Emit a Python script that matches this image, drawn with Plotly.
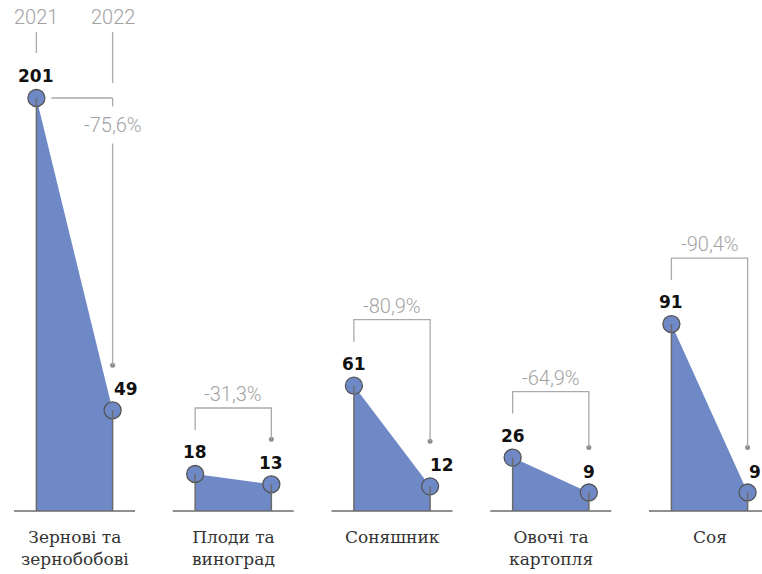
import plotly.graph_objects as go

# ---------------- data ----------------
categories = ["Зернові та<br>зернобобові", "Плоди та<br>виноград", "Соняшник",
              "Овочі та<br>картопля", "Соя"]
values_2021 = [201, 18, 61, 26, 91]
values_2022 = [49, 13, 12, 9, 9]
changes = ["-75,6%", "-31,3%", "-80,9%", "-64,9%", "-90,4%"]
years = ["2021", "2022"]

# ---------------- layout constants ----------------
W, H = 762, 574
GROUP_PX = 158.75          # px between group centres
FIRST_CENTER_PX = 74.5     # px of first group centre
HALF = 0.24                # year offset from group centre (group units)
Y_RANGE = [-30.66, 248.7]
PX_PER_UNIT = H / (Y_RANGE[1] - Y_RANGE[0])

FILL = "#6f88c6"
EDGE = "#6b6b6b"
BRACKET = "#aaaaaa"
GREY_TXT = "#a3a3a3"
LIGHT_FONT = dict(family="Roboto", size=20, color=GREY_TXT, weight=300)
VALUE_FONT = dict(family="DejaVu Sans", size=17, color="#111111", weight="bold")
CAT_FONT = dict(family="DejaVu Serif", size=17, color="#333333")

# label x-shift (px) for 2022 value labels (placement only)
label22_dx = [13, 0, 12, 0, 7]


def dx(px):
    return px / GROUP_PX


def dy(px):
    return px / PX_PER_UNIT


def px_to_y(p):
    return Y_RANGE[1] - p / PX_PER_UNIT


fig = go.Figure()
shapes = []
annotations = []
dot_x, dot_y = [], []
pt_x, pt_y = [], []

for i, (cat, v1, v2, ch) in enumerate(zip(categories, values_2021, values_2022, changes)):
    x1, x2 = i - HALF, i + HALF
    # filled area
    fig.add_trace(go.Scatter(x=[x1, x1, x2, x2], y=[0, v1, v2, 0], mode="lines",
                             fill="toself", fillcolor=FILL, line=dict(width=0),
                             hoverinfo="skip", showlegend=False))
    # vertical edges
    shapes.append(dict(type="line", xref="x", yref="y", x0=x1, x1=x1, y0=0, y1=v1,
                       line=dict(color=EDGE, width=1.5), layer="above"))
    shapes.append(dict(type="line", xref="x", yref="y", x0=x2, x1=x2, y0=0, y1=v2,
                       line=dict(color=EDGE, width=1.5), layer="above"))
    # baseline
    shapes.append(dict(type="line", xref="x", yref="y", x0=i - dx(60.5), x1=i + dx(60.5),
                       y0=0, y1=0, line=dict(color=EDGE, width=1.5)))
    pt_x += [x1, x2]
    pt_y += [v1, v2]

    # value labels
    annotations.append(dict(x=x1, y=v1, xref="x", yref="y", text=f"<b>{v1}</b>",
                            showarrow=False, yshift=22, font=VALUE_FONT))
    annotations.append(dict(x=x2, y=v2, xref="x", yref="y", text=f"<b>{v2}</b>",
                            showarrow=False, yshift=21, xshift=label22_dx[i], font=VALUE_FONT))

    # category label
    annotations.append(dict(x=i, y=0, xref="x", yref="y", text=cat, showarrow=False,
                            yanchor="top", yshift=-14, font=CAT_FONT))

    # bracket
    dot_level = v2 + dy(45)
    top = v1 + dy(66)
    if top > px_to_y(60):
        # inline bracket at the 2021 point level
        by = v1
        shapes.append(dict(type="line", xref="x", yref="y", x0=x1 + dx(15), x1=x2,
                           y0=by, y1=by, line=dict(color=BRACKET, width=1.3)))
        shapes.append(dict(type="line", xref="x", yref="y", x0=x2, x1=x2,
                           y0=by, y1=dot_level, line=dict(color=BRACKET, width=1.3)))
        annotations.append(dict(x=x2, y=by - dy(27), xref="x", yref="y", text=ch,
                                showarrow=False, font=LIGHT_FONT, bgcolor="white",
                                borderpad=6))
        # year header
        annotations.append(dict(x=x1, y=px_to_y(17), xref="x", yref="y", text=years[0],
                                showarrow=False, font=LIGHT_FONT))
        annotations.append(dict(x=x2, y=px_to_y(17), xref="x", yref="y", text=years[1],
                                showarrow=False, font=LIGHT_FONT))
        shapes.append(dict(type="line", xref="x", yref="y", x0=x1, x1=x1,
                           y0=px_to_y(32), y1=v1 + dy(45),
                           line=dict(color=BRACKET, width=1.3)))
        shapes.append(dict(type="line", xref="x", yref="y", x0=x2, x1=x2,
                           y0=px_to_y(32), y1=v1 + dy(15),
                           line=dict(color=BRACKET, width=1.3)))
    else:
        by = top
        shapes.append(dict(type="path", xref="x", yref="y",
                           path=f"M {x1},{by - dy(22)} L {x1},{by} L {x2},{by} L {x2},{dot_level}",
                           line=dict(color=BRACKET, width=1.3)))
        annotations.append(dict(x=i, y=by, xref="x", yref="y", text=ch, showarrow=False,
                                yshift=14, font=LIGHT_FONT))
    dot_x.append(x2)
    dot_y.append(dot_level)

# bracket end dots
fig.add_trace(go.Scatter(x=dot_x, y=dot_y, mode="markers",
                         marker=dict(size=5, color="#8c8c8c"),
                         hoverinfo="skip", showlegend=False))
# data points
fig.add_trace(go.Scatter(x=pt_x, y=pt_y, mode="markers",
                         marker=dict(size=17, color=FILL, line=dict(color="#555555", width=1.3)),
                         hoverinfo="skip", showlegend=False, cliponaxis=False))

fig.update_layout(
    width=W, height=H, margin=dict(l=0, r=0, t=0, b=0),
    paper_bgcolor="white", plot_bgcolor="white",
    xaxis=dict(range=[-FIRST_CENTER_PX / GROUP_PX, (W - FIRST_CENTER_PX) / GROUP_PX],
               visible=False, fixedrange=True),
    yaxis=dict(range=Y_RANGE, visible=False, fixedrange=True),
    shapes=shapes, annotations=annotations, showlegend=False,
)

fig.write_html(
    "out.html",
    config={"displayModeBar": False},
    post_script="document.body.style.margin='0';document.body.style.padding='0';"
                "document.body.style.overflow='hidden';",
)
